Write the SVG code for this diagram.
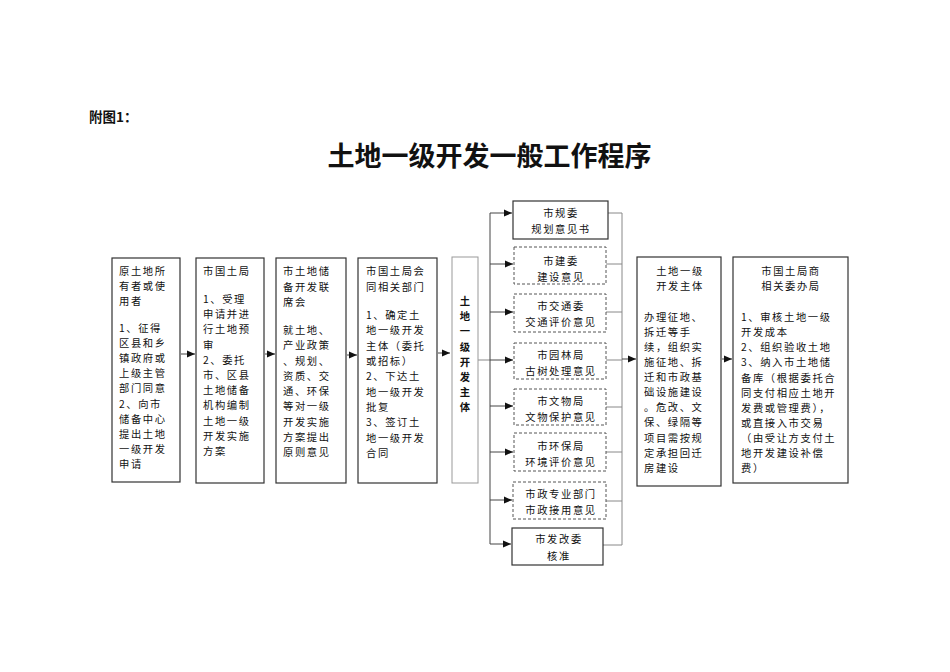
<svg xmlns="http://www.w3.org/2000/svg" width="950" height="672" viewBox="0 0 950 672">
<defs>
<marker id="ah" markerWidth="8" markerHeight="8" refX="8" refY="4" orient="auto" markerUnits="userSpaceOnUse">
<path d="M0,0.5 L8,4 L0,7.5 Z" fill="#111"/>
</marker>
<style>
.box{fill:#fff;stroke:#333;stroke-width:1.2}
.dbox{fill:#fff;stroke:#555;stroke-width:1;stroke-dasharray:3 2}
.gbox{fill:#fff;stroke:#999;stroke-width:1}
.t{font-family:"Noto Sans CJK SC","Liberation Sans",sans-serif;font-size:10.3px;letter-spacing:1.6px;fill:#111}
.c{text-anchor:middle}
.b{font-weight:bold}
.cl{fill:none;stroke:#444;stroke-width:1}
.cr{fill:none;stroke:#888;stroke-width:1}
</style>
</defs>
<rect width="950" height="672" fill="#fff"/>
<text x="89" y="122" font-family="Noto Sans CJK SC,Liberation Sans,sans-serif" font-size="13.5" font-weight="bold" fill="#111">附图1：</text>
<text x="489.5" y="166" text-anchor="middle" font-family="Noto Sans CJK SC,Liberation Sans,sans-serif" font-size="27" font-weight="bold" fill="#111">土地一级开发一般工作程序</text>

<g id="connectors">
<line class="cl" x1="181" y1="354" x2="195" y2="354" marker-end="url(#ah)"/>
<line class="cl" x1="265" y1="354" x2="275" y2="354" marker-end="url(#ah)"/>
<line class="cl" x1="347" y1="355" x2="357" y2="355" marker-end="url(#ah)"/>
<line class="cl" x1="438" y1="353" x2="450" y2="353" marker-end="url(#ah)"/>
<line class="cr" x1="478" y1="360" x2="490" y2="360"/>
<line class="cl" x1="490" y1="213" x2="490" y2="544"/>
<line class="cl" x1="490" y1="213" x2="512" y2="213" marker-end="url(#ah)"/>
<line class="cl" x1="490" y1="264" x2="513" y2="264" marker-end="url(#ah)"/>
<line class="cl" x1="490" y1="312" x2="513" y2="312" marker-end="url(#ah)"/>
<line class="cl" x1="490" y1="360" x2="513" y2="360" marker-end="url(#ah)"/>
<line class="cl" x1="490" y1="406" x2="513" y2="406" marker-end="url(#ah)"/>
<line class="cl" x1="490" y1="452" x2="513" y2="452" marker-end="url(#ah)"/>
<line class="cl" x1="490" y1="500" x2="512" y2="500" marker-end="url(#ah)"/>
<line class="cl" x1="490" y1="544" x2="511" y2="544" marker-end="url(#ah)"/>
<line class="cr" x1="608" y1="213" x2="622" y2="213"/>
<line class="cr" x1="606" y1="264" x2="622" y2="264"/>
<line class="cr" x1="606" y1="312" x2="622" y2="312"/>
<line class="cr" x1="606" y1="360" x2="622" y2="360"/>
<line class="cr" x1="606" y1="407" x2="622" y2="407"/>
<line class="cr" x1="606" y1="452" x2="622" y2="452"/>
<line class="cr" x1="606" y1="501" x2="622" y2="501"/>
<line class="cr" x1="603" y1="545" x2="622" y2="545"/>
<line class="cr" x1="622" y1="213" x2="622" y2="545"/>
<line class="cl" x1="622" y1="359" x2="636" y2="359" marker-end="url(#ah)"/>
<line class="cl" x1="722" y1="359" x2="732" y2="359" marker-end="url(#ah)"/>
</g>

<g id="n1">
<rect class="box" x="112" y="258" width="68" height="224"/>
<text class="t" x="119" y="275">原土地所</text>
<text class="t" x="119" y="290">有者或使</text>
<text class="t" x="119" y="305">用者</text>
<text class="t" x="119" y="332">1、征得</text>
<text class="t" x="119" y="347.1">区县和乡</text>
<text class="t" x="119" y="362.2">镇政府或</text>
<text class="t" x="119" y="377.3">上级主管</text>
<text class="t" x="119" y="392.4">部门同意</text>
<text class="t" x="119" y="407.5">2、向市</text>
<text class="t" x="119" y="422.6">储备中心</text>
<text class="t" x="119" y="437.7">提出土地</text>
<text class="t" x="119" y="452.8">一级开发</text>
<text class="t" x="119" y="468">申请</text>
</g>

<g id="n2">
<rect class="box" x="196" y="258" width="68" height="225"/>
<text class="t" x="203" y="275">市国土局</text>
<text class="t" x="203" y="303">1、受理</text>
<text class="t" x="203" y="318.2">申请并进</text>
<text class="t" x="203" y="333.4">行土地预</text>
<text class="t" x="203" y="348.6">审</text>
<text class="t" x="203" y="363.8">2、委托</text>
<text class="t" x="203" y="379">市、区县</text>
<text class="t" x="203" y="394.2">土地储备</text>
<text class="t" x="203" y="409.4">机构编制</text>
<text class="t" x="203" y="424.6">土地一级</text>
<text class="t" x="203" y="439.8">开发实施</text>
<text class="t" x="203" y="455">方案</text>
</g>

<g id="n3">
<rect class="box" x="276" y="258" width="70" height="225"/>
<text class="t" x="283" y="275">市土地储</text>
<text class="t" x="283" y="290.5">备开发联</text>
<text class="t" x="283" y="306">席会</text>
<text class="t" x="283" y="334">就土地、</text>
<text class="t" x="283" y="349.3">产业政策</text>
<text class="t" x="283" y="364.5">、规划、</text>
<text class="t" x="283" y="379.8">资质、交</text>
<text class="t" x="283" y="395">通、环保</text>
<text class="t" x="283" y="410.3">等对一级</text>
<text class="t" x="283" y="425.5">开发实施</text>
<text class="t" x="283" y="440.8">方案提出</text>
<text class="t" x="283" y="456">原则意见</text>
</g>

<g id="n4">
<rect class="box" x="358" y="258" width="79" height="225"/>
<text class="t" x="366" y="275">市国土局会</text>
<text class="t" x="366" y="291">同相关部门</text>
<text class="t" x="366" y="319">1、确定土</text>
<text class="t" x="366" y="334.3">地一级开发</text>
<text class="t" x="366" y="349.7">主体（委托</text>
<text class="t" x="366" y="365">或招标）</text>
<text class="t" x="366" y="380.3">2、下达土</text>
<text class="t" x="366" y="395.7">地一级开发</text>
<text class="t" x="366" y="411">批复</text>
<text class="t" x="366" y="426.3">3、签订土</text>
<text class="t" x="366" y="441.7">地一级开发</text>
<text class="t" x="366" y="457">合同</text>
</g>

<g id="n5">
<rect class="gbox" x="452" y="257" width="26" height="226"/>
<text class="t c b" x="465.8" y="305">土</text>
<text class="t c b" x="465.8" y="320.2">地</text>
<text class="t c b" x="465.8" y="335.4">一</text>
<text class="t c b" x="465.8" y="350.6">级</text>
<text class="t c b" x="465.8" y="365.8">开</text>
<text class="t c b" x="465.8" y="381">发</text>
<text class="t c b" x="465.8" y="396.2">主</text>
<text class="t c b" x="465.8" y="411.4">体</text>
</g>

<g id="n_guiwei">
<rect class="box" x="513" y="201" width="95" height="38"/>
<text class="t c" x="561" y="216.5">市规委</text>
<text class="t c" x="561" y="232.5">规划意见书</text>
</g>
<g id="n_jianwei">
<rect class="dbox" x="514" y="247" width="92" height="37"/>
<text class="t c" x="561" y="265">市建委</text>
<text class="t c" x="561" y="280.5">建设意见</text>
</g>
<g id="n_jiaotong">
<rect class="dbox" x="514" y="294" width="92" height="38"/>
<text class="t c" x="561" y="309.5">市交通委</text>
<text class="t c" x="561" y="325.5">交通评价意见</text>
</g>
<g id="n_yuanlin">
<rect class="dbox" x="514" y="343" width="92" height="36"/>
<text class="t c" x="561" y="359">市园林局</text>
<text class="t c" x="561" y="375">古树处理意见</text>
</g>
<g id="n_wenwu">
<rect class="dbox" x="514" y="389" width="92" height="36"/>
<text class="t c" x="561" y="405">市文物局</text>
<text class="t c" x="561" y="420.5">文物保护意见</text>
</g>
<g id="n_huanbao">
<rect class="dbox" x="514" y="433" width="92" height="38"/>
<text class="t c" x="561" y="450">市环保局</text>
<text class="t c" x="561" y="465.5">环境评价意见</text>
</g>
<g id="n_shizheng">
<rect class="dbox" x="513" y="482" width="93" height="37"/>
<text class="t c" x="561" y="498">市政专业部门</text>
<text class="t c" x="561" y="513.5">市政接用意见</text>
</g>
<g id="n_fagai">
<rect class="box" x="512" y="528" width="91" height="37"/>
<text class="t c" x="559" y="543">市发改委</text>
<text class="t c" x="559" y="559.5">核准</text>
</g>

<g id="n6">
<rect class="box" x="637" y="257" width="84" height="229"/>
<text class="t c" x="680" y="275">土地一级</text>
<text class="t c" x="680" y="290">开发主体</text>
<text class="t" x="644" y="321">办理征地、</text>
<text class="t" x="644" y="336">拆迁等手</text>
<text class="t" x="644" y="351">续，组织实</text>
<text class="t" x="644" y="366">施征地、拆</text>
<text class="t" x="644" y="381">迁和市政基</text>
<text class="t" x="644" y="396">础设施建设</text>
<text class="t" x="644" y="411">。危改、文</text>
<text class="t" x="644" y="426">保、绿隔等</text>
<text class="t" x="644" y="441.5">项目需按规</text>
<text class="t" x="644" y="456.5">定承担回迁</text>
<text class="t" x="644" y="471.5">房建设</text>
</g>

<g id="n7">
<rect class="box" x="733" y="257" width="115" height="226"/>
<text class="t c" x="791" y="275">市国土局商</text>
<text class="t c" x="791" y="290">相关委办局</text>
<text class="t" x="741" y="321">1、审核土地一级</text>
<text class="t" x="741" y="336">开发成本</text>
<text class="t" x="741" y="351">2、组织验收土地</text>
<text class="t" x="741" y="366">3、纳入市土地储</text>
<text class="t" x="741" y="381.5">备库（根据委托合</text>
<text class="t" x="741" y="396.5">同支付相应土地开</text>
<text class="t" x="741" y="411.5">发费或管理费），</text>
<text class="t" x="741" y="426.5">或直接入市交易</text>
<text class="t" x="741" y="441.5">（由受让方支付土</text>
<text class="t" x="741" y="456.5">地开发建设补偿</text>
<text class="t" x="741" y="471.5">费）</text>
</g>
</svg>
